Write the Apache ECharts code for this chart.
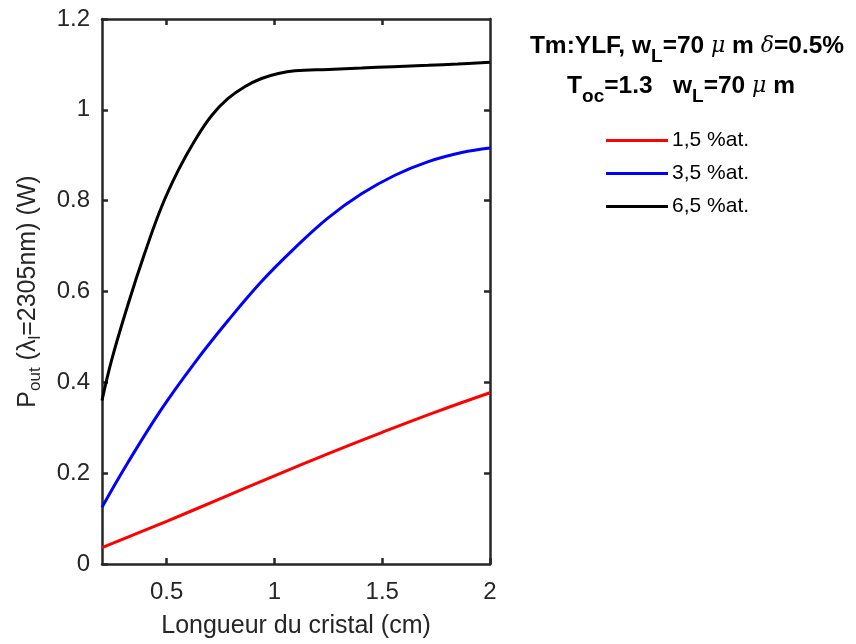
<!DOCTYPE html>
<html>
<head>
<meta charset="utf-8">
<script src="https://cdn.jsdelivr.net/npm/echarts@6/dist/echarts.min.js"></script>
<style>html,body{margin:0;padding:0;background:#fff}#c{width:856px;height:644px}</style>
</head>
<body>
<div id="c"></div>
<script>
// ---- data ----
const seriesNames = ['1,5 %at.', '3,5 %at.', '6,5 %at.'];
const redX = [0.2, 0.5, 0.75, 1.0, 1.25, 1.5, 1.75, 2.0];
const redY = [0.036, 0.094, 0.144, 0.194, 0.243, 0.290, 0.335, 0.377];
const blueX = [0.2, 0.321, 0.476, 0.630, 0.785, 0.940, 1.095, 1.249, 1.404, 1.559, 1.714, 1.869, 2.0];
const blueY = [0.125, 0.224, 0.341, 0.443, 0.536, 0.622, 0.696, 0.762, 0.815, 0.856, 0.886, 0.906, 0.916];
const blackX = [0.2, 0.244, 0.321, 0.398, 0.476, 0.553, 0.630, 0.708, 0.785, 0.862, 0.940, 1.018, 1.095, 1.25, 1.404, 1.55, 1.713, 1.85, 2.0];
const blackY = [0.360, 0.448, 0.572, 0.684, 0.786, 0.866, 0.932, 0.987, 1.025, 1.051, 1.069, 1.080, 1.086, 1.089, 1.092, 1.095, 1.098, 1.101, 1.105];
const xTicks = [0.5, 1, 1.5, 2];
const xTicksTop = [0.5, 1, 1.5];
const yTicks = [0, 0.2, 0.4, 0.6, 0.8, 1, 1.2];
const yTicksRight = [0.2, 0.4, 0.6, 0.8, 1];

const FONT = 'Liberation Sans, Arial, Helvetica, sans-serif';
const AX = '#262626';
const pairs = (xs, ys) => xs.map((x, i) => [x, ys[i]]);

const titleRich = {
  b: {fontFamily: FONT, fontWeight: 'bold', fontSize: 24.5, lineHeight: 40, fill: '#000'},
  g: {fontFamily: 'DejaVu Serif, serif', fontStyle: 'italic', fontSize: 22, lineHeight: 40, fill: '#000'},
  s: {fontFamily: FONT, fontWeight: 'bold', fontSize: 19, lineHeight: 16, verticalAlign: 'bottom', fill: '#000'}
};

const chart = echarts.init(document.getElementById('c'), null, {renderer: 'canvas'});
const baseAxis = {
  axisLine: {show: true, onZero: false, lineStyle: {color: AX, width: 2.5}},
  splitLine: {show: false},
};
chart.setOption({
  backgroundColor: '#fff',
  animation: false,
  grid: {left: 102, top: 19, width: 388, height: 546, show: false},
  legend: {
    data: seriesNames,
    orient: 'vertical',
    left: 606, top: 130, padding: 0,
    icon: 'rect', itemWidth: 62, itemHeight: 3, itemGap: 12,
    textStyle: {fontFamily: FONT, fontSize: 21, color: '#000', padding: [0, 0, 0, -1]},
  },
  graphic: [
    {type: 'text', x: 687, y: 46, style: {
      text: '{b|Tm:YLF, w}{s|L}{b|=70 }{g|μ}{b| m }{g|δ}{b|=0.5%}',
      align: 'center', verticalAlign: 'middle', rich: titleRich}},
    {type: 'text', x: 681, y: 86, style: {
      text: '{b|T}{s|oc}{b|=1.3   w}{s|L}{b|=70 }{g|μ}{b| m}',
      align: 'center', verticalAlign: 'middle', rich: titleRich}}
  ],
  xAxis: [
    Object.assign({}, baseAxis, {
      type: 'value', position: 'bottom', min: 0.2, max: 2,
      name: 'Longueur du cristal (cm)', nameLocation: 'middle', nameGap: 50,
      nameTextStyle: {fontFamily: FONT, fontSize: 25, color: AX},
      axisTick: {show: true, inside: true, length: 6, customValues: xTicks, lineStyle: {color: AX, width: 2.5}},
      axisLabel: {show: true, customValues: xTicks, margin: 16, fontFamily: FONT, fontSize: 24, color: AX,
        formatter: v => String(v)},
    }),
    Object.assign({}, baseAxis, {
      type: 'value', position: 'top', min: 0.2, max: 2,
      axisTick: {show: true, inside: true, length: 6, customValues: xTicksTop, lineStyle: {color: AX, width: 2.5}},
      axisLabel: {show: false},
    })
  ],
  yAxis: [
    Object.assign({}, baseAxis, {
      type: 'value', position: 'left', min: 0, max: 1.2, interval: 0.2,
      name: '{n|P}{s|out}{n| (λ}{s|l}{n|=2305nm) (W)}', nameLocation: 'middle', nameGap: 58, nameRotate: 90,
      nameTextStyle: {rich: {
        n: {fontFamily: FONT, fontSize: 25, color: AX, lineHeight: 32},
        s: {fontFamily: FONT, fontSize: 17, color: AX, lineHeight: 16, verticalAlign: 'bottom'}
      }},
      axisTick: {show: true, inside: true, length: 6, customValues: yTicks, lineStyle: {color: AX, width: 2.5}},
      axisLabel: {show: true, customValues: yTicks, margin: 12, fontFamily: FONT, fontSize: 24, color: AX,
        formatter: v => String(Math.round(v * 10) / 10)},
    }),
    Object.assign({}, baseAxis, {
      type: 'value', position: 'right', min: 0, max: 1.2, interval: 0.2,
      axisTick: {show: true, inside: true, length: 6, customValues: yTicksRight, lineStyle: {color: AX, width: 2.5}},
      axisLabel: {show: false},
    })
  ],
  series: [
    {name: seriesNames[0], type: 'line', data: pairs(redX, redY), symbol: 'none', smooth: 0.4,
      lineStyle: {color: '#ff0000', width: 3}, itemStyle: {color: '#ff0000'}, z: 3},
    {name: seriesNames[1], type: 'line', data: pairs(blueX, blueY), symbol: 'none', smooth: 0.4,
      lineStyle: {color: '#0000ff', width: 3}, itemStyle: {color: '#0000ff'}, z: 3},
    {name: seriesNames[2], type: 'line', data: pairs(blackX, blackY), symbol: 'none', smooth: 0.4,
      lineStyle: {color: '#000000', width: 3}, itemStyle: {color: '#000000'}, z: 3}
  ]
});
</script>
</body>
</html>
